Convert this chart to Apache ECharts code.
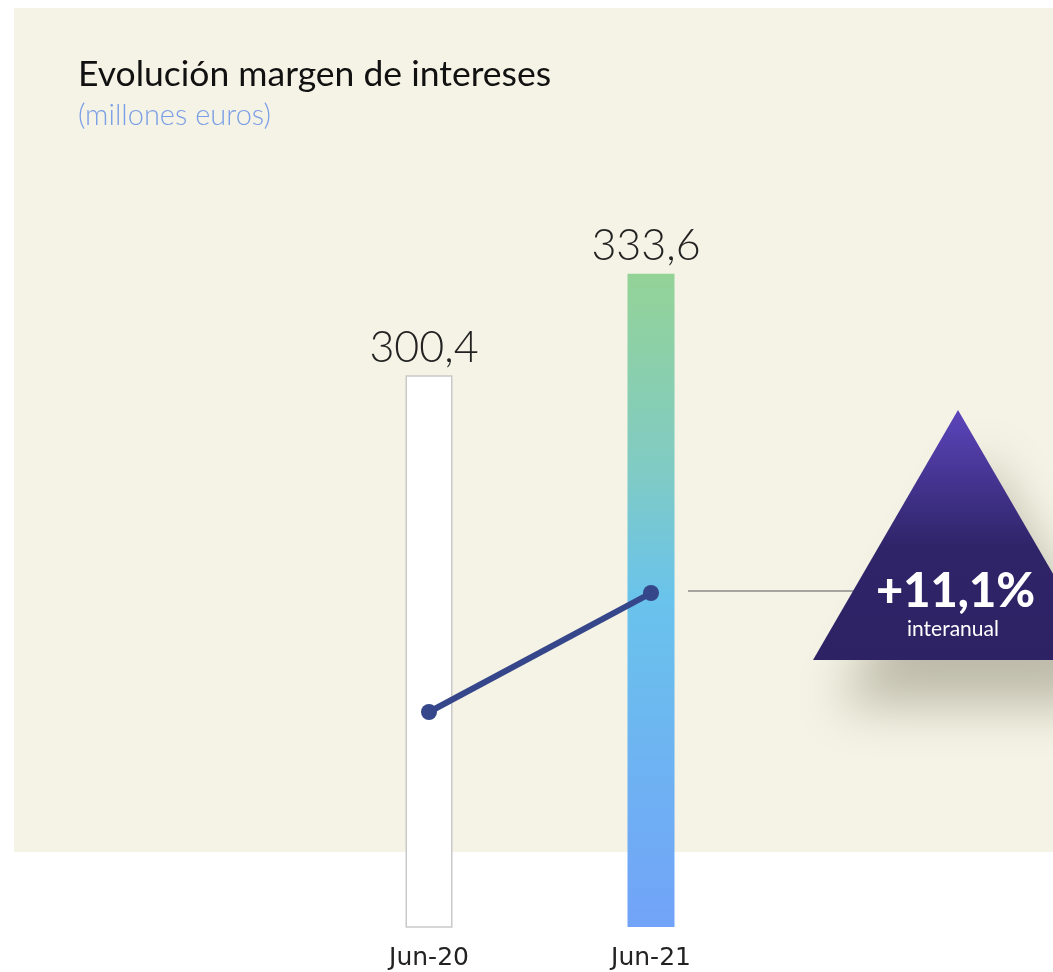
<!DOCTYPE html>
<html>
<head>
<meta charset="utf-8">
<script src="https://cdn.jsdelivr.net/npm/echarts@6/dist/echarts.min.js"></script>
<style>
  html, body { margin: 0; padding: 0; background: #fff; }
  #chart { width: 1053px; height: 972px; }
</style>
</head>
<body>
<div id="chart"></div>
<script>
// datos
var categorias = ['Jun-20', 'Jun-21'];
var margen = [300.4, 333.6];
var tendencia = [190.3, 229.2];
var variacion = '+11,1%';

var chart = echarts.init(document.getElementById('chart'));

var option = {
  backgroundColor: '#ffffff',
  animation: false,
  title: {
    text: 'Evolución margen de intereses',
    subtext: '(millones euros)',
    left: 73,
    top: 52,
    itemGap: 8,
    textStyle: { fontFamily: 'Lato', fontWeight: 'normal', fontSize: 35.5, color: '#111' },
    subtextStyle: { fontFamily: 'Lato', fontWeight: 300, fontSize: 29, color: '#7b9fe6' }
  },
  grid: { left: 318, right: 291, top: 193, bottom: 45 },
  xAxis: {
    type: 'category',
    data: categorias,
    axisLine: { show: false },
    axisTick: { show: false },
    axisLabel: { fontFamily: 'DejaVu Sans', fontSize: 25, color: '#222', margin: 19 }
  },
  yAxis: {
    type: 'value',
    min: 120,
    max: 360,
    show: false
  },
  graphic: [
    {
      type: 'rect', z: -10, silent: true,
      shape: { x: 14, y: 8, width: 1039, height: 844 },
      style: { fill: '#f5f3e5' }
    },
    {
      type: 'line', z: 5,
      shape: { x1: 688, y1: 591, x2: 860, y2: 591 },
      style: { stroke: '#8a8a8a', lineWidth: 1.5 }
    },
    {
      type: 'polygon', z: 10,
      shape: { points: [[813, 660], [958, 410], [1103, 660]] },
      style: {
        fill: new echarts.graphic.LinearGradient(0, 0, 0, 1, [
          { offset: 0, color: '#5b45bb' },
          { offset: 0.55, color: '#2f2468' },
          { offset: 1, color: '#2d2263' }
        ]),
        shadowBlur: 50,
        shadowOffsetX: 25,
        shadowOffsetY: 45,
        shadowColor: 'rgba(60,55,30,0.3)'
      }
    },
    {
      type: 'text', z: 11,
      left: 876, top: 568,
      style: { text: variacion, fill: '#fff', font: '900 47px Lato' }
    },
    {
      type: 'text', z: 11,
      left: 907, top: 619,
      style: { text: 'interanual', fill: '#fff', font: '21px Lato' }
    }
  ],
  series: [
    {
      type: 'bar',
      barWidth: 47,
      data: [
        {
          value: margen[0],
          itemStyle: { color: '#ffffff', borderColor: '#c9c9c9', borderWidth: 1.5 }
        },
        {
          value: margen[1],
          itemStyle: {
            color: new echarts.graphic.LinearGradient(0, 0, 0, 1, [
              { offset: 0, color: '#94d397' },
              { offset: 0.3, color: '#80cbc4' },
              { offset: 0.5, color: '#69c3ec' },
              { offset: 1, color: '#72a3f8' }
            ])
          }
        }
      ],
      label: {
        show: true,
        position: 'top',
        distance: 6,
        fontFamily: 'Lato',
        fontWeight: 300,
        fontSize: 43,
        color: '#222',
        offset: [-5, 0],
        formatter: function (p) { return p.value.toFixed(1).replace('.', ','); }
      }
    },
    {
      type: 'line',
      data: tendencia,
      symbol: 'circle',
      symbolSize: 16,
      lineStyle: { color: '#35468a', width: 6 },
      itemStyle: { color: '#35468a' },
      z: 4
    }
  ]
};

chart.setOption(option);
</script>
</body>
</html>
